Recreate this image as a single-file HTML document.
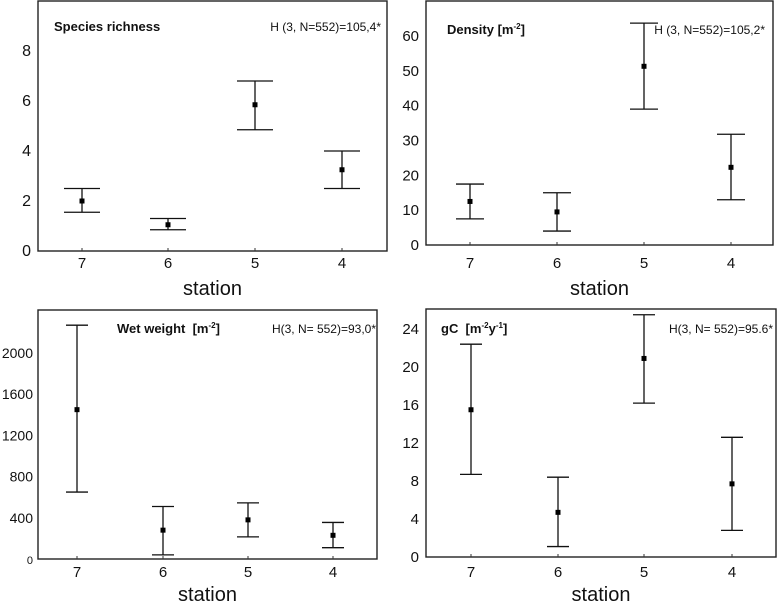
<!DOCTYPE html>
<html><head><meta charset="utf-8"><style>
html,body{margin:0;padding:0;background:#fff;}
svg{display:block;font-family:"Liberation Sans",Arial,sans-serif;}
</style></head><body>
<svg id="chart" width="777" height="603" viewBox="0 0 777 603" xmlns="http://www.w3.org/2000/svg"></svg>
<script>
const stations = ["7","6","5","4"];
const richMean = [2.0, 1.05, 5.85, 3.25];
const richUp = [2.5, 1.3, 6.8, 4.0];
const richLow = [1.55, 0.85, 4.85, 2.5];
const richTicks = [0,2,4,6,8];
const densMean = [12.5, 9.5, 51.3, 22.3];
const densUp = [17.5, 15, 63.7, 31.8];
const densLow = [7.5, 4, 39, 13];
const densTicks = [0,10,20,30,40,50,60];
const wetMean = [1450, 280, 380, 230];
const wetUp = [2270, 510, 545, 355];
const wetLow = [650, 40, 215, 110];
const wetTicks = [0,400,800,1200,1600,2000];
const gcMean = [15.5, 4.7, 20.9, 7.7];
const gcUp = [22.4, 8.4, 25.5, 12.6];
const gcLow = [8.7, 1.1, 16.2, 2.8];
const gcTicks = [0,4,8,12,16,20,24];

const NS="http://www.w3.org/2000/svg";
const svg=document.getElementById('chart');
function mk(tag,attrs,parent){const e=document.createElementNS(NS,tag);for(const k in attrs)e.setAttribute(k,attrs[k]);(parent||svg).appendChild(e);return e;}

function panel(o){
  const g=mk('g',{});
  
  
  const y=v=>o.y0+(v-o.vmin)*(o.y1-o.y0)/(o.vmax-o.vmin);
  const fr=mk('rect',{x:o.L,y:o.T,width:o.R-o.L,height:o.B-o.T,fill:'none',stroke:'#222','stroke-width':1.4},g);
  
  
  o.ticks.forEach(t=>{
    const tx=mk('text',{x:o.labR,y:y(t)+5,'text-anchor':'end','font-size':(t===0&&o.small0)?11:o.fs,fill:'#111'},g);
    tx.textContent=t;
    
    
  });
  stations.forEach((s,i)=>{
    const x=o.xs[i];
    mk('line',{x1:x,x2:x,y1:o.B,y2:o.B-3,stroke:'#333','stroke-width':1},g);
    const tx=mk('text',{x:x,y:o.xlabY,'text-anchor':'middle','font-size':15,fill:'#111'},g);
    tx.textContent=s;
    
    
    const eg=mk('g',{},g);
    
    
    const yu=y(o.up[i]), yl=y(o.low[i]), ym=y(o.mean[i]), c=o.cap/2;
    mk('line',{x1:x,x2:x,y1:yu,y2:yl,stroke:'#111','stroke-width':1.3},eg);
    mk('line',{x1:x-c,x2:x+c,y1:yu,y2:yu,stroke:'#111','stroke-width':1.3},eg);
    mk('line',{x1:x-c,x2:x+c,y1:yl,y2:yl,stroke:'#111','stroke-width':1.3},eg);
    const m=mk('rect',{x:x-2.5,y:ym-2.5,width:5,height:5,fill:'#000'},eg);
    
    
  });
  const st=mk('text',{x:(o.L+o.R)/2,y:o.statY,'text-anchor':'middle','font-size':20,fill:'#111'},g);
  st.textContent='station';
  
  
  const ti=mk('text',{x:o.titleX,y:o.titleY,'font-size':13,'font-weight':'bold',fill:'#111'},g);
  ti.innerHTML=o.title;
  
  
  const h=mk('text',{x:o.hX,y:o.titleY,'text-anchor':'end','font-size':12,fill:'#111'},g);
  h.textContent=o.h;
  
  
}
const sup=s=>'<tspan dy="-5" font-size="8">'+s+'</tspan><tspan dy="5">';
panel({name:'species-richness-panel',L:38,T:1,R:387,B:251,y0:251,y1:51,vmin:0,vmax:8,ticks:richTicks,labR:31,fs:16,
  xs:[82,168,255,342],mean:richMean,up:richUp,low:richLow,cap:36,xlabY:268,statY:295,
  title:'Species richness',titleX:54,titleY:31,h:'H (3, N=552)=105,4*',hX:381});
panel({name:'density-panel',L:426,T:1,R:773,B:245,y0:245,y1:36,vmin:0,vmax:60,ticks:densTicks,labR:419,fs:15,
  xs:[470,557,644,731],mean:densMean,up:densUp,low:densLow,cap:28,xlabY:268,statY:295,
  title:'Density [m'+sup('-2')+']</tspan>',titleX:447,titleY:34,h:'H (3, N=552)=105,2*',hX:765});
panel({name:'wet-weight-panel',L:38,T:310,R:377,B:559,y0:559,y1:353,vmin:0,vmax:2000,ticks:wetTicks,labR:33,small0:true,fs:14,
  xs:[77,163,248,333],mean:wetMean,up:wetUp,low:wetLow,cap:22,xlabY:577,statY:601,
  title:'Wet weight&#160; [m'+sup('-2')+']</tspan>',titleX:117,titleY:333,h:'H(3, N= 552)=93,0*',hX:376});
panel({name:'carbon-panel',L:426,T:309,R:776,B:557,y0:557,y1:329,vmin:0,vmax:24,ticks:gcTicks,labR:419,fs:15,
  xs:[471,558,644,732],mean:gcMean,up:gcUp,low:gcLow,cap:22,xlabY:577,statY:601,
  title:'gC&#160; [m'+sup('-2')+'y'+sup('-1')+']</tspan></tspan>',titleX:441,titleY:333,h:'H(3, N= 552)=95.6*',hX:773});
</script>
</body></html>
